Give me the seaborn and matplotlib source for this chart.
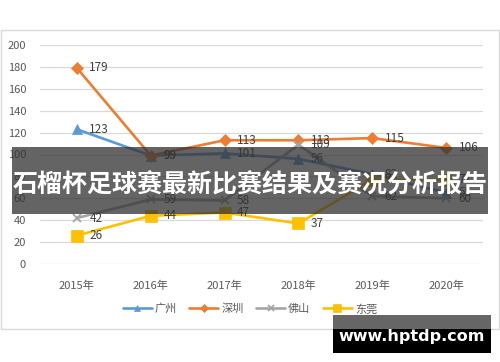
import matplotlib
matplotlib.use("Agg")
import matplotlib.pyplot as plt
from matplotlib.patches import Rectangle
import seaborn as sns
import pandas as pd

years = ["2015年", "2016年", "2017年", "2018年", "2019年", "2020年"]
guangzhou = [123, 99, 101, 96, 82, 65]
shenzhen = [179, 99, 113, 113, 115, 106]
foshan = [42, 59, 58, 109, 62, 60]
dongguan = [26, 44, 47, 37, 77, 77]
series_names = ["广州", "深圳", "佛山", "东莞"]
title_text = "石榴杯足球赛最新比赛结果及赛况分析报告"
watermark = "www.hptdp.com"
yticks = [0, 20, 40, 60, 80, 100, 120, 140, 160, 180, 200]

sns.set_style("white")
plt.rcParams["font.family"] = ["Noto Sans CJK SC", "DejaVu Sans"]

colors = ["#5B9BD5", "#ED7D31", "#A5A5A5", "#FFC000"]
markers = ["^", "D", "x", "s"]
msizes = [7, 6, 6, 8]

rows = []
for name, vals in zip(series_names, [guangzhou, shenzhen, foshan, dongguan]):
    for i, v in enumerate(vals):
        rows.append({"x": i, "year": years[i], "value": v, "city": name})
df = pd.DataFrame(rows)

fig = plt.figure(figsize=(5.0, 3.62), dpi=100)
fig.patch.set_facecolor("white")
# chart frame
fig.add_artist(Rectangle((1 / 500, (362 - 329) / 362), 498 / 500, 299 / 362,
                         transform=fig.transFigure, facecolor="white",
                         edgecolor="#d9d9d9", linewidth=1.0, zorder=-1))
ax = fig.add_axes([40 / 500, (362 - 264) / 362, 443 / 500, 219 / 362])
ax.set_facecolor("none")

for name, c, m, ms in zip(series_names, colors, markers, msizes):
    sub = df[df["city"] == name]
    sns.lineplot(data=sub, x="x", y="value", ax=ax, color=c, marker=m,
                 markersize=ms, linewidth=1.9, markeredgecolor=c,
                 markeredgewidth=1.3 if m == "x" else 0.5, label=name,
                 legend=False, zorder=3)
    for xi, v in zip(sub["x"], sub["value"]):
        ax.annotate(str(v), (xi, v), xytext=(9, 0), textcoords="offset points",
                    ha="left", va="center", fontsize=8.5, color="#404040",
                    zorder=4)

ax.set_xlim(-0.5, len(years) - 0.5)
ax.set_ylim(0, 200)
ax.set_yticks(yticks)
ax.set_xticks(range(len(years)))
ax.set_xticklabels(years)
ax.tick_params(axis="both", labelsize=8, labelcolor="#595959", length=0)
ax.tick_params(axis="x", pad=12)
ax.tick_params(axis="y", pad=10)
ax.yaxis.grid(True, color="#d9d9d9", linewidth=0.9)
ax.xaxis.grid(False)
for s in ax.spines.values():
    s.set_visible(False)
ax.set_xlabel("")
ax.set_ylabel("")

handles, labels = ax.get_legend_handles_labels()
leg = fig.legend(handles, labels, loc="center", bbox_to_anchor=(0.5, (362 - 309) / 362),
                 ncol=4, frameon=False, fontsize=8, handlelength=2.6,
                 columnspacing=1.1, handletextpad=0.3, markerscale=0.7)
for t in leg.get_texts():
    t.set_color("#595959")

# banner overlay
fig.add_artist(Rectangle((12 / 500, (362 - 214) / 362), 476 / 500, 67 / 362,
                         transform=fig.transFigure, facecolor="#333333",
                         alpha=0.76, edgecolor="none", zorder=10))
fig.text(0.5, (362 - 185) / 362, title_text, ha="center", va="center",
         color="white", fontsize=18, fontweight="bold", zorder=11)

# watermark
fig.add_artist(Rectangle((333 / 500, (362 - 329) / 362), 158 / 500, 14 / 362,
                         transform=fig.transFigure, facecolor="#666666",
                         edgecolor="none", zorder=12))
fig.add_artist(Rectangle((333 / 500, (362 - 353) / 362), 158 / 500, 24 / 362,
                         transform=fig.transFigure, facecolor="black",
                         edgecolor="none", zorder=12))
fig.text(412 / 500, (362 - 337) / 362, watermark, ha="center", va="center",
         color="white", fontsize=11.5, fontweight="bold", zorder=13,
         family=["DejaVu Sans"])

fig.savefig("out.png", dpi=100)
